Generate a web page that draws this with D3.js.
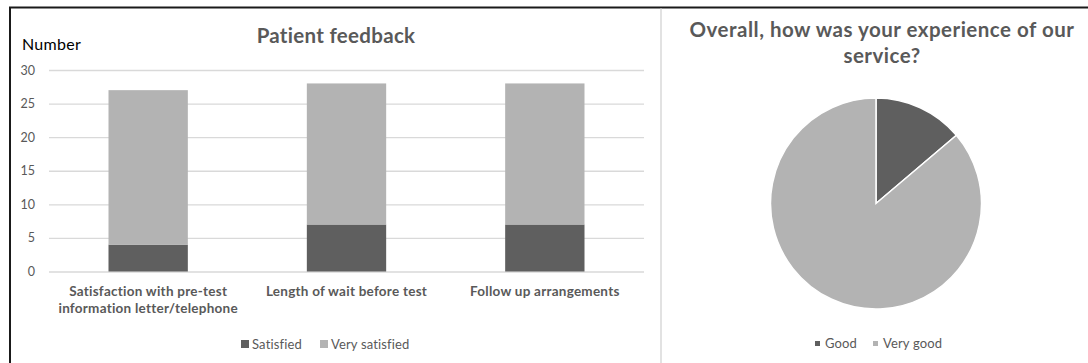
<!DOCTYPE html>
<html><head><meta charset="utf-8">
<script src="https://cdn.jsdelivr.net/npm/d3@7"></script>
<style>
html,body{margin:0;padding:0;background:#fff;}
svg{display:block;font-family:Lato, "Open Sans", sans-serif;}
</style></head>
<body>
<svg id="c" width="1088" height="363"></svg>
<script>
// ---- data ----
const categories = ["Satisfaction with pre-test|information letter/telephone", "Length of wait before test", "Follow up arrangements"];
const satisfied = [4, 7, 7];
const verySatisfied = [23, 21, 21];
const seriesNames = ["Satisfied", "Very satisfied"];
const yTicks = [0, 5, 10, 15, 20, 25, 30];
const pieLabels = ["Good", "Very good"];
const pieValues = [4, 25];
const barTitle = "Patient feedback";
const yAxisTitle = "Number";
const pieTitle = ["Overall, how was your experience of our", "service?"];

const colDark = "#5f5f5f", colLight = "#b3b3b3", textCol = "#595959", gridCol = "#d9d9d9";
const svg = d3.select("#c");

// frame
svg.append("line").attr("x1", 9).attr("x2", 1088).attr("y1", 7.5).attr("y2", 7.5).attr("stroke", "#1a1a1a").attr("stroke-width", 2);
svg.append("line").attr("x1", 10).attr("x2", 10).attr("y1", 7).attr("y2", 363).attr("stroke", "#1a1a1a").attr("stroke-width", 2);
svg.append("line").attr("x1", 661).attr("x2", 661).attr("y1", 8.5).attr("y2", 363).attr("stroke", gridCol).attr("stroke-width", 1.5);

// ---- bar chart ----
const y = d3.scaleLinear().domain([0, 30]).range([271.5, 70]);
const x = d3.scaleBand().domain(categories).range([49, 644]).paddingInner(0.6).paddingOuter(0.3);

const yAxis = d3.axisLeft(y).tickValues(yTicks).tickSize(-(644 - 49)).tickPadding(14);
const gy = svg.append("g").attr("transform", "translate(49,0)").call(yAxis);
gy.select(".domain").remove();
gy.selectAll(".tick line").attr("stroke", gridCol).attr("stroke-width", 1.3);
gy.selectAll(".tick text").attr("fill", textCol).attr("font-size", 12.5).attr("font-family", "Lato");

const stackData = categories.map((c, i) => ({cat: c, Satisfied: satisfied[i], "Very satisfied": verySatisfied[i]}));
const stacked = d3.stack().keys(seriesNames)(stackData);
const color = d3.scaleOrdinal().domain(seriesNames).range([colDark, colLight]);
svg.append("g").selectAll("g").data(stacked).join("g").attr("fill", d => color(d.key))
  .selectAll("rect").data(d => d).join("rect")
  .attr("x", d => x(d.data.cat)).attr("width", x.bandwidth())
  .attr("y", d => y(d[1])).attr("height", d => y(d[0]) - y(d[1]));

// category labels
const xl = svg.append("g");
categories.forEach(c => {
  const lines = c.split("|");
  const t = xl.append("text").attr("x", x(c) + x.bandwidth() / 2).attr("y", 295.5)
    .attr("text-anchor", "middle").attr("fill", textCol).attr("font-weight", "bold").attr("font-size", 13.5)
    .attr("letter-spacing", 0.25);
  lines.forEach((l, j) => t.append("tspan").attr("x", x(c) + x.bandwidth() / 2).attr("dy", j ? 17.5 : 0).text(l));
});

svg.append("text").attr("x", 336).attr("y", 42.5).attr("text-anchor", "middle").attr("fill", textCol)
  .attr("font-weight", "bold").attr("font-size", 20.5).attr("letter-spacing", 0.3).text(barTitle);
svg.append("text").attr("x", 22).attr("y", 50.3).attr("fill", "#000").attr("font-size", 16).attr("letter-spacing", 0.3).text(yAxisTitle);

// bar legend
const legX = [241, 320];
seriesNames.forEach((s, i) => {
  svg.append("rect").attr("x", legX[i]).attr("y", 340).attr("width", 8).attr("height", 8).attr("fill", color(s));
  svg.append("text").attr("x", legX[i] + 11).attr("y", 348.5).attr("fill", textCol).attr("font-size", 13).attr("letter-spacing", 0.15).text(s);
});

// ---- pie ----
const cx = 876, cy = 203.5, r = 105.5;
const pie = d3.pie().sort(null).value(d => d)(pieValues);
const arc = d3.arc().innerRadius(0).outerRadius(r);
const pcol = d3.scaleOrdinal().domain(pieLabels).range([colDark, colLight]);
svg.append("g").attr("transform", `translate(${cx},${cy})`).selectAll("path").data(pie).join("path")
  .attr("d", arc).attr("fill", (d, i) => pcol(pieLabels[i])).attr("stroke", "#fff").attr("stroke-width", 1.5);

const pt = svg.append("text").attr("text-anchor", "middle").attr("fill", textCol).attr("font-weight", "bold")
  .attr("font-size", 20.5).attr("letter-spacing", 0.5);
pieTitle.forEach((l, j) => pt.append("tspan").attr("x", 882).attr("y", j ? 63 : 36.5).text(l));

const pLegX = [815, 873];
pieLabels.forEach((s, i) => {
  svg.append("rect").attr("x", pLegX[i]).attr("y", 341).attr("width", 5).attr("height", 5).attr("fill", pcol(s));
  svg.append("text").attr("x", pLegX[i] + 10).attr("y", 347.5).attr("fill", textCol).attr("font-size", 13).attr("letter-spacing", 0.15).text(s);
});
</script>
</body></html>
